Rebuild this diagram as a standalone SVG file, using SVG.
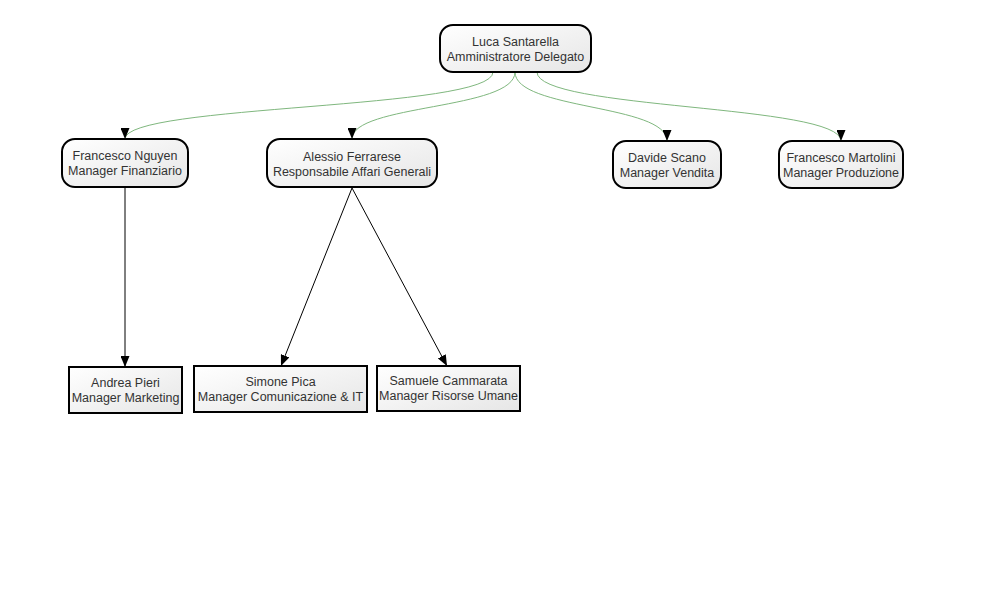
<svg xmlns="http://www.w3.org/2000/svg" width="1000" height="600" viewBox="0 0 1000 600">
<defs>
<linearGradient id="g" x1="0" y1="0" x2="1" y2="1">
<stop offset="0" stop-color="#ffffff"/>
<stop offset="1" stop-color="#e6e6e6"/>
</linearGradient>
<marker id="ar" markerWidth="11" markerHeight="9" refX="11" refY="4.5" orient="auto" markerUnits="userSpaceOnUse" viewBox="0 0 11 9">
<path d="M0,0 L11,4.5 L0,9 Z" fill="#000"/>
</marker>
<style>
.n{fill:url(#g);stroke:#000;stroke-width:2}
.t{font-family:"Liberation Sans",Arial,sans-serif;font-size:12.5px;fill:#333;text-anchor:middle}
.gc{fill:none;stroke:#7fb77e;stroke-width:1;marker-end:url(#ar)}
.bc{fill:none;stroke:#000;stroke-width:1;marker-end:url(#ar)}
</style>
</defs>
<rect width="1000" height="600" fill="#fff"/>
<g id="connectors">
<path class="gc" d="M493,72 C493,110 125,104 125,139"/>
<path class="gc" d="M515,72 C515,110 352,104 352,139"/>
<path class="gc" d="M515,72 C515,110 667,104 667,141"/>
<path class="gc" d="M537,72 C537,110 841,104 841,141"/>
<path class="bc" d="M125,188 L125,367"/>
<path class="bc" d="M352,188 L281,366"/>
<path class="bc" d="M352,188 L447,366"/>
</g>
<g id="n-luca">
<rect class="n" x="440" y="25" width="151" height="47" rx="13"/>
<text class="t" x="515.5" y="46">Luca Santarella</text>
<text class="t" x="515.5" y="61">Amministratore Delegato</text>
</g>
<g id="n-nguyen">
<rect class="n" x="62" y="139" width="126" height="48" rx="13"/>
<text class="t" x="125" y="160">Francesco Nguyen</text>
<text class="t" x="125" y="175">Manager Finanziario</text>
</g>
<g id="n-ferrarese">
<rect class="n" x="267" y="139" width="170" height="48" rx="13"/>
<text class="t" x="352" y="161">Alessio Ferrarese</text>
<text class="t" x="352" y="176">Responsabile Affari Generali</text>
</g>
<g id="n-scano">
<rect class="n" x="613" y="141" width="108" height="47" rx="13"/>
<text class="t" x="667" y="162">Davide Scano</text>
<text class="t" x="667" y="177">Manager Vendita</text>
</g>
<g id="n-martolini">
<rect class="n" x="779" y="141" width="124" height="47" rx="13"/>
<text class="t" x="841" y="162">Francesco Martolini</text>
<text class="t" x="841" y="177">Manager Produzione</text>
</g>
<g id="n-pieri">
<rect class="n" x="69" y="367" width="113" height="46"/>
<text class="t" x="125.5" y="387">Andrea Pieri</text>
<text class="t" x="125.5" y="402">Manager Marketing</text>
</g>
<g id="n-pica">
<rect class="n" x="194" y="366" width="173" height="46"/>
<text class="t" x="280.5" y="386">Simone Pica</text>
<text class="t" x="280.5" y="401">Manager Comunicazione &amp; IT</text>
</g>
<g id="n-cammarata">
<rect class="n" x="377" y="366" width="143" height="45"/>
<text class="t" x="448.5" y="385">Samuele Cammarata</text>
<text class="t" x="448.5" y="400">Manager Risorse Umane</text>
</g>
</svg>
